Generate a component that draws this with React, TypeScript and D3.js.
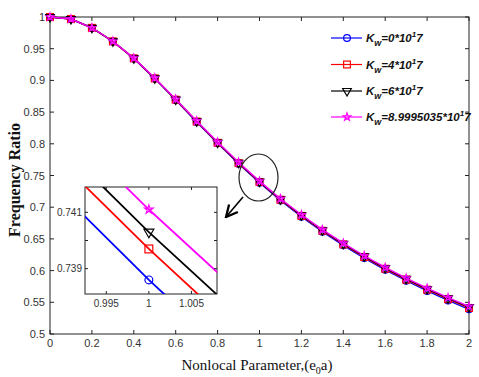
import React from 'react';
import * as d3 from 'd3';

// nonlocal parameter e0a
const xs = [0, 0.1, 0.2, 0.3, 0.4, 0.5, 0.6, 0.7, 0.8, 0.9, 1.0, 1.1, 1.2, 1.3, 1.4, 1.5, 1.6, 1.7, 1.8, 1.9, 2.0];

// frequency ratio for each Winkler stiffness
const kw0 = [1.0, 0.9968, 0.9828, 0.9614, 0.9345, 0.9028, 0.869, 0.8345, 0.8008, 0.7686, 0.7386, 0.7106, 0.685, 0.6614, 0.6398, 0.6198, 0.6012, 0.584, 0.568, 0.553, 0.539];
const kw4 = [1.0, 0.9968, 0.9829, 0.9616, 0.9348, 0.9032, 0.8696, 0.8352, 0.8016, 0.7695, 0.7397, 0.7118, 0.6863, 0.6628, 0.6413, 0.6214, 0.6029, 0.5858, 0.5699, 0.555, 0.5411];
const kw6 = [1.0, 0.9968, 0.9829, 0.9617, 0.9349, 0.9034, 0.8699, 0.8356, 0.8021, 0.7701, 0.7403, 0.7125, 0.6871, 0.6637, 0.6422, 0.6224, 0.604, 0.5869, 0.571, 0.5562, 0.5424];
const kw9 = [1.0, 0.9968, 0.983, 0.9618, 0.9351, 0.9037, 0.8703, 0.8361, 0.8027, 0.7708, 0.7411, 0.7134, 0.688, 0.6646, 0.6432, 0.6234, 0.605, 0.588, 0.5722, 0.5574, 0.5436];

const legendValues = ['0', '4', '6', '8.9995035'];
const xTicks = [0, 0.2, 0.4, 0.6, 0.8, 1, 1.2, 1.4, 1.6, 1.8, 2];
const yTicks = [0.5, 0.55, 0.6, 0.65, 0.7, 0.75, 0.8, 0.85, 0.9, 0.95, 1];
const insetXTicks = [0.995, 1, 1.005];
const insetYTicks = [0.739, 0.74, 0.741];
const insetYLabels = [0.739, 0.741];

const series = [
  {ys: kw0, color: '#0000ff', marker: 'circle'},
  {ys: kw4, color: '#ff0000', marker: 'square'},
  {ys: kw6, color: '#000000', marker: 'tri'},
  {ys: kw9, color: '#ff00ff', marker: 'star'},
];

const Marker = ({kind, x, y, color, s = 1}) => {
  if (kind === 'circle') return <circle cx={x} cy={y} r={3.4 * s} fill="none" stroke={color} strokeWidth={1.2} />;
  if (kind === 'square') return <rect x={x - 3.4 * s} y={y - 3.4 * s} width={6.8 * s} height={6.8 * s} fill="none" stroke={color} strokeWidth={1.2} />;
  if (kind === 'tri') {
    const p = d3.symbol().type(d3.symbolTriangle).size(32 * s * s)();
    return <path d={p} transform={`translate(${x},${y}) rotate(180)`} fill="none" stroke={color} strokeWidth={1.2} />;
  }
  const p = d3.symbol().type(d3.symbolStar).size(18 * s * s)();
  return <path d={p} transform={`translate(${x},${y})`} fill="none" stroke={color} strokeWidth={1.2} />;
};

export default function App() {
  const W = 479, H = 377;
  const x = d3.scaleLinear().domain([0, 2]).range([50, 469]);
  const y = d3.scaleLinear().domain([0.5, 1]).range([334, 17]);
  const line = d3.line<number>().x((d, i) => x(xs[i])).y(d => y(d));

  // inset
  const ix = d3.scaleLinear().domain([0.9925, 1.008]).range([85, 217]);
  const iy = d3.scaleLinear().domain([0.7381, 0.7419]).range([294, 187]);
  const iline = d3.line<number>().x((d, i) => ix(xs[i])).y(d => iy(d));

  const tickFont = {fontFamily: 'Liberation Sans, Arial, sans-serif', fontSize: 11, fill: '#333'};
  const legY = [38, 64.5, 91, 117];

  return (
    <svg width={W} height={H} style={{position: 'absolute', left: 0, top: 0, background: '#fff'}}>
      <defs>
        <clipPath id="insetClip">
          <rect x={85} y={187} width={132} height={107} />
        </clipPath>
        <marker id="arrow" viewBox="0 0 10 10" refX="9" refY="5" markerWidth="9" markerHeight="9" orient="auto">
          <path d="M1,1 L9,5 L1,9" fill="none" stroke="#000" strokeWidth={1.6} />
        </marker>
      </defs>

      {/* main frame */}
      <rect x={50} y={17} width={419} height={317} fill="#fff" stroke="#222" strokeWidth={1} />
      {xTicks.map(t => (
        <g key={'xt' + t}>
          <line x1={x(t)} x2={x(t)} y1={334} y2={330} stroke="#222" />
          <line x1={x(t)} x2={x(t)} y1={17} y2={21} stroke="#222" />
          <text x={x(t)} y={347} textAnchor="middle" {...tickFont}>{t}</text>
        </g>
      ))}
      {yTicks.map(t => (
        <g key={'yt' + t}>
          <line x1={50} x2={54} y1={y(t)} y2={y(t)} stroke="#222" />
          <line x1={469} x2={465} y1={y(t)} y2={y(t)} stroke="#222" />
          <text x={45} y={y(t) + 4} textAnchor="end" {...tickFont}>{t}</text>
        </g>
      ))}

      {series.map((s, k) => (
        <g key={'s' + k}>
          <path d={line(s.ys)} fill="none" stroke={s.color} strokeWidth={1.4} />
          {s.ys.map((v, i) => <Marker key={i} kind={s.marker} x={x(xs[i])} y={y(v)} color={s.color} />)}
        </g>
      ))}

      {/* zoom ellipse + arrow */}
      <ellipse cx={258.5} cy={177.5} rx={19.5} ry={23.5} fill="none" stroke="#222" strokeWidth={1.2} />
      <line x1={243} y1={197} x2={226} y2={217} stroke="#000" strokeWidth={1.6} markerEnd="url(#arrow)" />

      {/* inset */}
      <rect x={85} y={187} width={132} height={107} fill="#fff" stroke="#222" strokeWidth={1} />
      <g clipPath="url(#insetClip)">
        {series.map((s, k) => (
          <path key={'is' + k} d={iline(s.ys)} fill="none" stroke={s.color} strokeWidth={1.8} />
        ))}
      </g>
      {series.map((s, k) => (
        <Marker key={'im' + k} kind={s.marker} x={ix(1)} y={iy(s.ys[10])} color={s.color} s={1.15} />
      ))}
      {insetXTicks.map(t => (
        <g key={'ixt' + t}>
          <line x1={ix(t)} x2={ix(t)} y1={294} y2={291} stroke="#222" />
          <line x1={ix(t)} x2={ix(t)} y1={187} y2={190} stroke="#222" />
          <text x={ix(t)} y={307} textAnchor="middle" {...tickFont} fontSize={10}>{t}</text>
        </g>
      ))}
      {insetYTicks.map(t => (
        <g key={'iyt' + t}>
          <line x1={85} x2={88} y1={iy(t)} y2={iy(t)} stroke="#222" />
          <line x1={217} x2={214} y1={iy(t)} y2={iy(t)} stroke="#222" />
        </g>
      ))}
      {insetYLabels.map(t => (
        <text key={'iyl' + t} x={82} y={iy(t) + 3.5} textAnchor="end" {...tickFont} fontSize={10}>{t}</text>
      ))}

      {/* legend */}
      {series.map((s, k) => (
        <g key={'lg' + k}>
          <line x1={331} x2={362} y1={legY[k]} y2={legY[k]} stroke={s.color} strokeWidth={1.2} />
          <Marker kind={s.marker} x={347} y={legY[k]} color={s.color} />
          <text x={366} y={legY[k] + 4} fontFamily="Liberation Sans, Arial, sans-serif" fontStyle="italic" fontWeight="bold" fontSize={11.5} fill="#111">
            <tspan>K</tspan>
            <tspan dy={4} fontSize={9}>w</tspan>
            <tspan dy={-4}>{'=' + legendValues[k] + '*10'}</tspan>
            <tspan dy={-5} fontSize={8}>1</tspan>
            <tspan dy={5}>7</tspan>
          </text>
        </g>
      ))}

      {/* axis labels */}
      <text transform="translate(20,180) rotate(-90)" textAnchor="middle" fontFamily="Liberation Serif, Times New Roman, serif" fontWeight="bold" fontSize={16} fill="#111">
        Frequency Ratio
      </text>
      <text x={257} y={370} textAnchor="middle" fontFamily="Liberation Serif, Times New Roman, serif" fontSize={15} fill="#111">
        <tspan>Nonlocal Parameter,(e</tspan>
        <tspan dy={4} fontSize={10}>0</tspan>
        <tspan dy={-4}>a)</tspan>
      </text>
    </svg>
  );
}
